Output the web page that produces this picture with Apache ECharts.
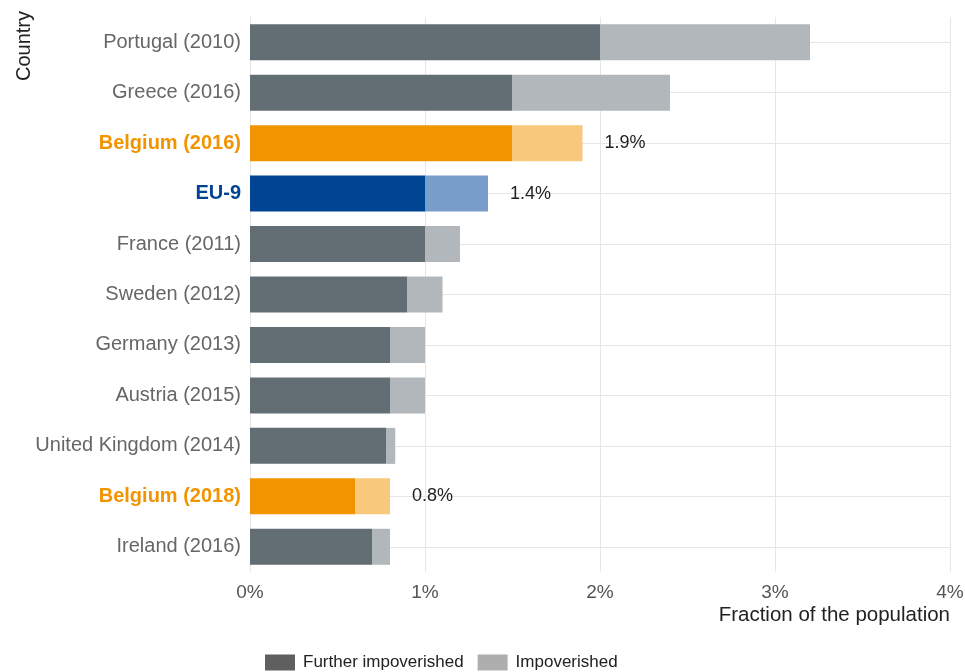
<!DOCTYPE html>
<html>
<head>
<meta charset="utf-8">
<script src="https://cdn.jsdelivr.net/npm/echarts@6/dist/echarts.min.js"></script>
<style>
  html, body { margin: 0; padding: 0; background: #fff; }
  #chart { width: 965px; height: 672px; }
</style>
</head>
<body>
<div id="chart"></div>
<script>
// categories, bottom to top (category axis starts at the bottom)
var countries = ["Ireland (2016)", "Belgium (2018)", "United Kingdom (2014)", "Austria (2015)",
  "Germany (2013)", "Sweden (2012)", "France (2011)", "EU-9", "Belgium (2016)",
  "Greece (2016)", "Portugal (2010)"];
var furtherImpoverished = [0.70, 0.60, 0.78, 0.80, 0.80, 0.90, 1.00, 1.00, 1.50, 1.50, 2.00];
var totalImpoverished = [0.80, 0.80, 0.83, 1.00, 1.00, 1.10, 1.20, 1.36, 1.90, 2.40, 3.20];
var xTicks = ["0%", "1%", "2%", "3%", "4%"];

// highlighted rows
var highlight = {
  "Belgium (2016)": { dark: "#F29400", light: "#F8C97C", label: "1.9%" },
  "Belgium (2018)": { dark: "#F29400", light: "#F8C97C", label: "0.8%" },
  "EU-9": { dark: "#004494", light: "#7A9ECB", label: "1.4%" }
};
var grayDark = "#636E74";
var grayLight = "#B1B7BA";

var chart = echarts.init(document.getElementById("chart"));

var furtherData = countries.map(function (c, i) {
  var h = highlight[c];
  return { value: furtherImpoverished[i], itemStyle: { color: h ? h.dark : grayDark } };
});
var restData = countries.map(function (c, i) {
  var h = highlight[c];
  var d = {
    value: +(totalImpoverished[i] - furtherImpoverished[i]).toFixed(3),
    itemStyle: { color: h ? h.light : grayLight }
  };
  if (h) {
    d.label = {
      show: true, position: "right", distance: 22,
      formatter: h.label, color: "#222", fontSize: 18,
      fontFamily: "Liberation Sans"
    };
  }
  return d;
});

var option = {
  backgroundColor: "#fff",
  textStyle: { fontFamily: "Liberation Sans" },
  grid: { left: 250, right: 15, top: 17, bottom: 100, containLabel: false, outerBoundsMode: "none" },
  graphic: [{
    type: "text",
    x: 14, y: 46,
    rotation: Math.PI / 2,
    style: {
      text: "Country", fontSize: 20, fill: "#222",
      fontFamily: "Liberation Sans", align: "center", verticalAlign: "top"
    }
  }],
  legend: {
    top: 654,
    left: 265,
    itemWidth: 30,
    itemHeight: 16,
    itemGap: 14,
    padding: 0,
    icon: "rect",
    textStyle: { fontSize: 17, color: "#222", fontFamily: "Liberation Sans", padding: [0, 0, 0, 3] },
    data: ["Further impoverished", "Impoverished"]
  },
  xAxis: {
    type: "value",
    min: 0,
    max: 4,
    interval: 1,
    name: "Fraction of the population",
    nameLocation: "end",
    nameGap: 0,
    nameTextStyle: {
      fontSize: 20.5, color: "#222", align: "right", verticalAlign: "top",
      padding: [33, 0, 0, 0]
    },
    axisLine: { show: false },
    axisTick: { show: false },
    axisLabel: {
      fontSize: 19, color: "#555", margin: 11,
      formatter: function (v) { return xTicks[Math.round(v)]; }
    },
    splitLine: { show: true, lineStyle: { color: "#E6E6E6", width: 1 } }
  },
  yAxis: {
    type: "category",
    data: countries,
    axisLine: { show: false },
    axisTick: { show: false },
    splitLine: { show: true, alignWithLabel: true, lineStyle: { color: "#E6E6E6", width: 1 } },
    axisLabel: {
      fontSize: 20, margin: 9, color: "#666",
      formatter: function (v) {
        if (highlight[v]) return v === "EU-9" ? "{eu|" + v + "}" : "{be|" + v + "}";
        return v;
      },
      rich: {
        be: { fontSize: 20, fontWeight: "bold", color: "#F29400" },
        eu: { fontSize: 20, fontWeight: "bold", color: "#004494" }
      }
    }
  },
  series: [
    {
      name: "Further impoverished",
      type: "bar",
      stack: "total",
      barWidth: 36,
      itemStyle: { color: "#5F5F5F" },
      data: furtherData
    },
    {
      name: "Impoverished",
      type: "bar",
      stack: "total",
      barWidth: 36,
      itemStyle: { color: "#AEAEAE" },
      data: restData
    }
  ]
};
chart.setOption(option);
</script>
</body>
</html>
